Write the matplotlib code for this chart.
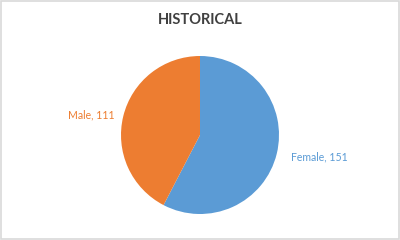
import matplotlib
matplotlib.use("Agg")
import matplotlib.pyplot as plt
from matplotlib.patches import Rectangle

title = "HISTORICAL"
categories = ["Female", "Male"]
values = [151, 111]
colors = ["#5B9BD5", "#ED7D31"]

plt.rcParams['font.family'] = ['Lato', 'DejaVu Sans']

fig = plt.figure(figsize=(4, 2.4), dpi=100)
fig.patch.set_facecolor("white")
fig.add_artist(Rectangle((0.002, 0.004), 0.995, 0.992, transform=fig.transFigure,
                         fill=False, edgecolor="#D9D9D9", linewidth=1.2))

ax = fig.add_axes([121/400, 26/240, 158/400, 158/240])
wedges, _ = ax.pie(values, colors=colors, startangle=90, counterclock=False,
                   wedgeprops=dict(linewidth=0))
ax.set_xlim(-1, 1)
ax.set_ylim(-1, 1)
ax.set_aspect("equal")

label_pos = [(1.51, -0.28), (-1.38, 0.25)]
for cat, v, c, (x, y) in zip(categories, values, colors, label_pos):
    ax.text(x, y, f"{cat}, {v}", color=c, fontsize=7.6, ha="center", va="center",
            clip_on=False)

fig.text(0.5, 1 - 20/240, title, ha="center", va="center", fontsize=10.5,
         fontweight="bold", color="#404040")

fig.savefig("out.png", dpi=100, facecolor="white")
